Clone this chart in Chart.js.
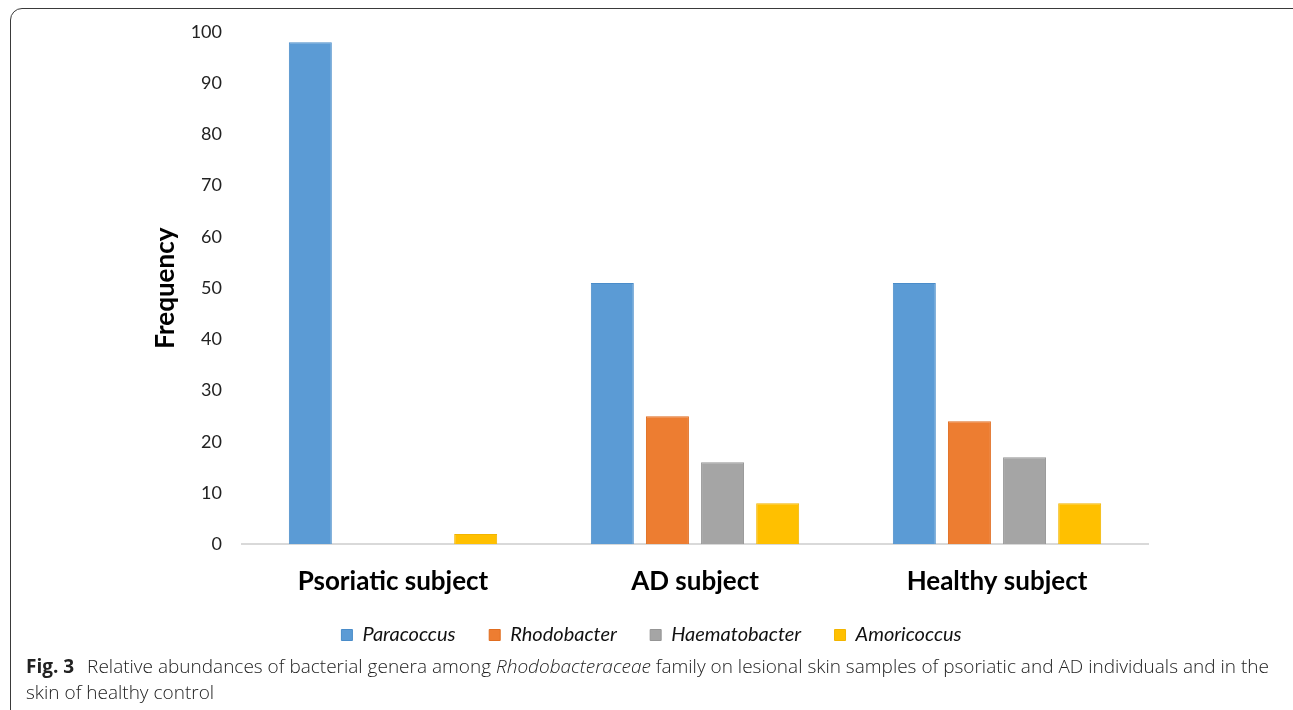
<!DOCTYPE html>
<html>
<head>
<meta charset="utf-8">
<script src="https://cdn.jsdelivr.net/npm/chart.js@4"></script>
<style>
  body { margin: 0; background: #fff; width: 1293px; height: 710px; overflow: hidden; position: relative; }
  #frame { position: absolute; left: 10px; top: 8px; width: 1300px; height: 740px; border: 1.5px solid #3a3a3a; border-radius: 12px; box-sizing: border-box; }
  #wrap { position: absolute; left: 0; top: 0; width: 1293px; height: 655px; }
  #caption { position: absolute; left: 26px; top: 653px; width: 1265px; font-family: "Open Sans", sans-serif; font-weight: 300; font-size: 19px; line-height: 26px; color: #222; white-space: nowrap; }
  #caption b { font-weight: 700; margin-right: 8px; }
</style>
</head>
<body>
<div id="frame"></div>
<div id="wrap"><canvas id="chart"></canvas></div>
<div id="caption"><b>Fig. 3</b> Relative abundances of bacterial genera among <i>Rhodobacteraceae</i> family on lesional skin samples of psoriatic and AD individuals and in the<br>skin of healthy control</div>
<script>
const subjects = ['Psoriatic subject', 'AD subject', 'Healthy subject'];
const genera = ['Paracoccus', 'Rhodobacter', 'Haematobacter', 'Amoricoccus'];
const paracoccus = [98, 51, 51];
const rhodobacter = [0, 25, 24];
const haematobacter = [0, 16, 17];
const amoricoccus = [2, 8, 8];
const fills = ['#5b9bd5', '#ed7d31', '#a5a5a5', '#ffc000'];
const edges = ['#4a8cc9', '#e06d20', '#959595', '#f2b500'];

const values = [paracoccus, rhodobacter, haematobacter, amoricoccus];
let datasets = [];
for (let i = 0; i < genera.length; i++) {
  datasets.push({
    label: genera[i],
    data: values[i],
    backgroundColor: fills[i],
    borderColor: edges[i],
    borderWidth: 1
  });
}

// legend items a bit further apart than the vertical padding allows
function spacedLabels(chart) {
  let items = Chart.defaults.plugins.legend.labels.generateLabels(chart);
  for (let i = 0; i < items.length - 1; i++) {
    items[i].text += '\u00a0\u00a0\u00a0\u00a0';
  }
  return items;
}

new Chart(document.getElementById('chart'), {
  type: 'bar',
  data: { labels: subjects, datasets: datasets },
  options: {
    responsive: true,
    maintainAspectRatio: false,
    animation: false,
    layout: { padding: { left: 10, right: 0, top: 32, bottom: 0 } },
    datasets: { bar: { categoryPercentage: 0.73, barPercentage: 0.78 } },
    plugins: {
      tooltip: { enabled: false },
      legend: {
        position: 'bottom',
        labels: {
          boxWidth: 11, boxHeight: 11, padding: 15,
          color: '#111',
          font: { family: 'Lato', style: 'italic', size: 20 },
          generateLabels: spacedLabels
        }
      }
    },
    scales: {
      x: {
        grid: { display: false },
        border: { display: true, color: '#d9d9d9', width: 2 },
        ticks: { color: '#000', padding: 26, font: { family: 'Lato', weight: 'bold', size: 26, lineHeight: 0.22 } }
      },
      y: {
        min: 0, max: 100,
        grid: { display: false },
        border: { display: false },
        afterFit: function (scale) { scale.width = 232; },
        ticks: { stepSize: 10, color: '#222', padding: 12, font: { family: 'Lato', size: 18 } },
        title: {
          display: true, text: 'Frequency', color: '#000',
          padding: { top: 140, bottom: 0 },
          font: { family: 'Lato', weight: 'bold', size: 26 }
        }
      },
      // empty right-hand strip so the plot ends where the original does
      yRight: {
        position: 'right',
        grid: { display: false },
        border: { display: false },
        ticks: { display: false },
        afterFit: function (scale) { scale.width = 145; }
      }
    }
  }
});
</script>
</body>
</html>
